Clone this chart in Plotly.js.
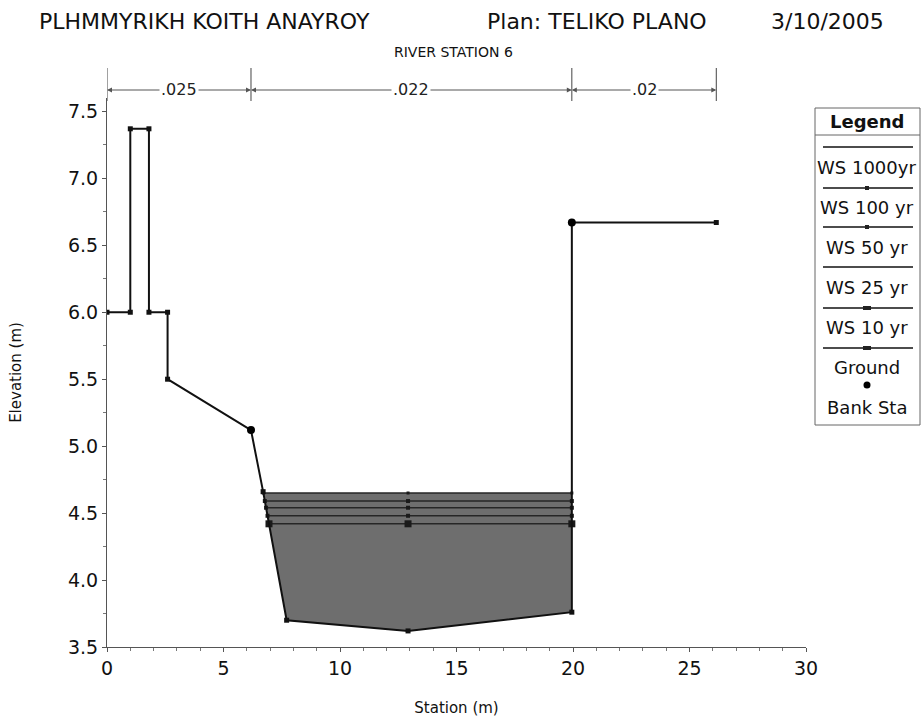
<!DOCTYPE html>
<html>
<head>
<meta charset="utf-8">
<script src="https://cdn.plot.ly/plotly-3.0.1.min.js"></script>
<style>html,body{margin:0;padding:0;background:#fff;}#chart{width:922px;height:717px;}</style>
</head>
<body>
<div id="chart"></div>
<script>
// ---- data ----
const groundStation = [0, 1.0, 1.0, 1.8, 1.8, 2.6, 2.6, 6.18, 6.70, 7.71, 12.92, 19.95, 19.95, 26.15];
const groundElev    = [6.0, 6.0, 7.37, 7.37, 6.0, 6.0, 5.5, 5.12, 4.66, 3.70, 3.62, 3.76, 6.67, 6.67];
const bankStation = [6.18, 19.95];
const bankElev    = [5.12, 6.67];
const wsNames = ['WS 1000yr', 'WS 100 yr', 'WS 50 yr', 'WS 25 yr', 'WS 10 yr'];
const wsElev  = [4.65, 4.59, 4.54, 4.48, 4.42];
const nBreaks = [0, 6.18, 19.95, 26.15];
const nValues = ['.025', '.022', '.02'];
const xTicks = [0, 5, 10, 15, 20, 25, 30];
const yTicks = [3.5, 4.0, 4.5, 5.0, 5.5, 6.0, 6.5, 7.0, 7.5];

// ---- helpers ----
// left crossing of the ground polyline with a water elevation (inside main channel)
function leftCrossing(e) {
  for (let i = 7; i < 10; i++) {
    const x1 = groundStation[i], y1 = groundElev[i], x2 = groundStation[i+1], y2 = groundElev[i+1];
    if ((y1 - e) * (y2 - e) <= 0 && y1 !== y2) return x1 + (e - y1) * (x2 - x1) / (y2 - y1);
  }
  return groundStation[9];
}
const wsLeft = wsElev.map(leftCrossing);
const wsRight = wsElev.map(() => groundStation[11]);

const traces = [];
// fill of the highest water surface down to the ground
{
  const e = wsElev[0];
  const px = [wsLeft[0], wsRight[0]], py = [e, e];
  for (let i = 11; i >= 9; i--) { px.push(groundStation[i]); py.push(groundElev[i]); }
  px.push(wsLeft[0]); py.push(e);
  traces.push({x: px, y: py, mode: 'lines', fill: 'toself', fillcolor: '#6e6e6e',
    line: {width: 0, color: 'rgba(0,0,0,0)'}, hoverinfo: 'skip', showlegend: false});
}
// water surface lines
const wsMarkerSize = [3, 4, 4, 4, 7];
wsElev.forEach((e, k) => {
  traces.push({x: [wsLeft[k], groundStation[10], wsRight[k]], y: [e, e, e], mode: 'lines+markers',
    name: wsNames[k], line: {color: '#262626', width: 1.6},
    marker: {symbol: 'square', size: wsMarkerSize[k], color: '#1a1a1a'}, showlegend: false});
});
// ground
traces.push({x: groundStation, y: groundElev, mode: 'lines+markers', name: 'Ground',
  line: {color: '#111', width: 2}, marker: {symbol: 'square', size: 5, color: '#111'}, showlegend: false});
// bank stations
traces.push({x: bankStation, y: bankElev, mode: 'markers', name: 'Bank Sta',
  marker: {symbol: 'circle', size: 8, color: '#000'}, showlegend: false});

// ---- layout geometry ----
const L = 107, R = 116, T = 98, B = 70, W = 922, H = 717;
const pw = W - L - R, ph = H - T - B;
const PX = x => (x - L) / pw;
const PY = y => (H - B - y) / ph;

const shapes = [], annotations = [];
const font = 'DejaVu Sans, Verdana, sans-serif';

// n-value dimension line
const yDim = PY(90);
nBreaks.forEach(s => shapes.push({type: 'line', xref: 'x', yref: 'paper', x0: s, x1: s,
  y0: PY(101), y1: PY(68), line: {color: '#444', width: 1}}));
for (let i = 0; i < nValues.length; i++) {
  const a = nBreaks[i], b = nBreaks[i+1], m = (a + b) / 2;
  [a, b].forEach(h => annotations.push({x: h, y: yDim, xref: 'x', yref: 'paper', ax: m, ay: yDim,
    axref: 'x', ayref: 'paper', text: '', showarrow: true, arrowhead: 2, arrowsize: 1,
    arrowwidth: 1, arrowcolor: '#555'}));
  annotations.push({x: m, y: yDim, xref: 'x', yref: 'paper', xanchor: 'center', yanchor: 'middle',
    text: nValues[i], showarrow: false,
    bgcolor: '#fff', font: {family: font, size: 16, color: '#222'}, borderpad: 1});
}

// titles
const topY = PY(22);
const tfont = {family: font, size: 22, color: '#111'};
annotations.push({x: PX(37), y: topY, xref: 'paper', yref: 'paper', xanchor: 'left', yanchor: 'middle',
  text: 'PLHMMYRIKH KOITH ANAYROY', showarrow: false, font: tfont});
annotations.push({x: PX(485), y: topY, xref: 'paper', yref: 'paper', xanchor: 'left', yanchor: 'middle',
  text: 'Plan: TELIKO PLANO', showarrow: false, font: tfont});
annotations.push({x: PX(886), y: topY, xref: 'paper', yref: 'paper', xanchor: 'right', yanchor: 'middle',
  text: '3/10/2005', showarrow: false, font: tfont});
annotations.push({x: PX(453), y: PY(52), xref: 'paper', yref: 'paper', xanchor: 'center', yanchor: 'middle',
  text: 'RIVER STATION 6', showarrow: false, font: {family: font, size: 14, color: '#111'}});

// custom legend box
const lgL = 815, lgR = 920, lgT = 108, lgB = 425, lgC = 867;
shapes.push({type: 'rect', xref: 'paper', yref: 'paper', x0: PX(lgL), x1: PX(lgR), y0: PY(lgB), y1: PY(lgT),
  line: {color: '#666', width: 1}, fillcolor: '#fff', layer: 'above'});
shapes.push({type: 'line', xref: 'paper', yref: 'paper', x0: PX(lgL), x1: PX(lgR), y0: PY(135), y1: PY(135),
  line: {color: '#666', width: 1}, layer: 'above'});
const lgFont = {family: font, size: 18, color: '#111'};
annotations.push({x: PX(lgC), y: PY(121), xref: 'paper', yref: 'paper', xanchor: 'center', yanchor: 'middle',
  text: '<b>Legend</b>', showarrow: false, font: lgFont});
const lgLineY = [147, 188, 227, 267, 308, 348];
const lgTextY = [168, 207, 247, 287, 327, 367];
const lgNames = wsNames.concat(['Ground']);
const lgMark = [0, 2, 2, 0, 4, 4];
lgLineY.forEach((y, i) => {
  shapes.push({type: 'line', xref: 'paper', yref: 'paper', x0: PX(823), x1: PX(913), y0: PY(y), y1: PY(y),
    line: {color: '#111', width: 1.6}, layer: 'above'});
  if (lgMark[i]) shapes.push({type: 'rect', xref: 'paper', yref: 'paper', x0: PX(lgC - lgMark[i]), x1: PX(lgC + lgMark[i]),
    y0: PY(y + 2), y1: PY(y - 2), line: {width: 0}, fillcolor: '#222', layer: 'above'});
  annotations.push({x: PX(lgC), y: PY(lgTextY[i]), xref: 'paper', yref: 'paper', xanchor: 'center', yanchor: 'middle',
    text: lgNames[i], showarrow: false, font: lgFont});
});
shapes.push({type: 'circle', xref: 'paper', yref: 'paper', x0: PX(lgC - 3.5), x1: PX(lgC + 3.5), y0: PY(388.5), y1: PY(381.5),
  line: {width: 0}, fillcolor: '#000', layer: 'above'});
annotations.push({x: PX(lgC), y: PY(407), xref: 'paper', yref: 'paper', xanchor: 'center', yanchor: 'middle',
  text: 'Bank Sta', showarrow: false, font: lgFont});

const layout = {
  width: W, height: H,
  margin: {l: L, r: R, t: T, b: B, pad: 0},
  paper_bgcolor: '#fff', plot_bgcolor: '#fff',
  showlegend: false,
  font: {family: font, color: '#111'},
  xaxis: {range: [0, 30], tickvals: xTicks, ticktext: xTicks.map(String), showgrid: false, zeroline: false,
    showline: true, linecolor: '#555', linewidth: 1, ticks: 'outside', ticklen: 4, tickcolor: '#555',
    minor: {dtick: 1, ticks: 'outside', ticklen: 3, tickcolor: '#777'},
    tickfont: {family: font, size: 19, color: '#111'},
    title: {text: 'Station (m)', font: {family: font, size: 15, color: '#111'}, standoff: 28}},
  yaxis: {range: [3.5, 7.6], tickvals: yTicks, ticktext: yTicks.map(v => v.toFixed(1)), showgrid: false, zeroline: false,
    showline: true, linecolor: '#555', linewidth: 1, ticks: 'outside', ticklen: 4, tickcolor: '#555',
    minor: {dtick: 0.25, ticks: 'outside', ticklen: 3, tickcolor: '#777'},
    tickfont: {family: font, size: 19, color: '#111'},
    title: {text: 'Elevation (m)', font: {family: font, size: 15, color: '#111'}, standoff: 42}},
  shapes: shapes,
  annotations: annotations
};

Plotly.newPlot('chart', traces, layout, {displayModeBar: false, staticPlot: true});
</script>
</body>
</html>
